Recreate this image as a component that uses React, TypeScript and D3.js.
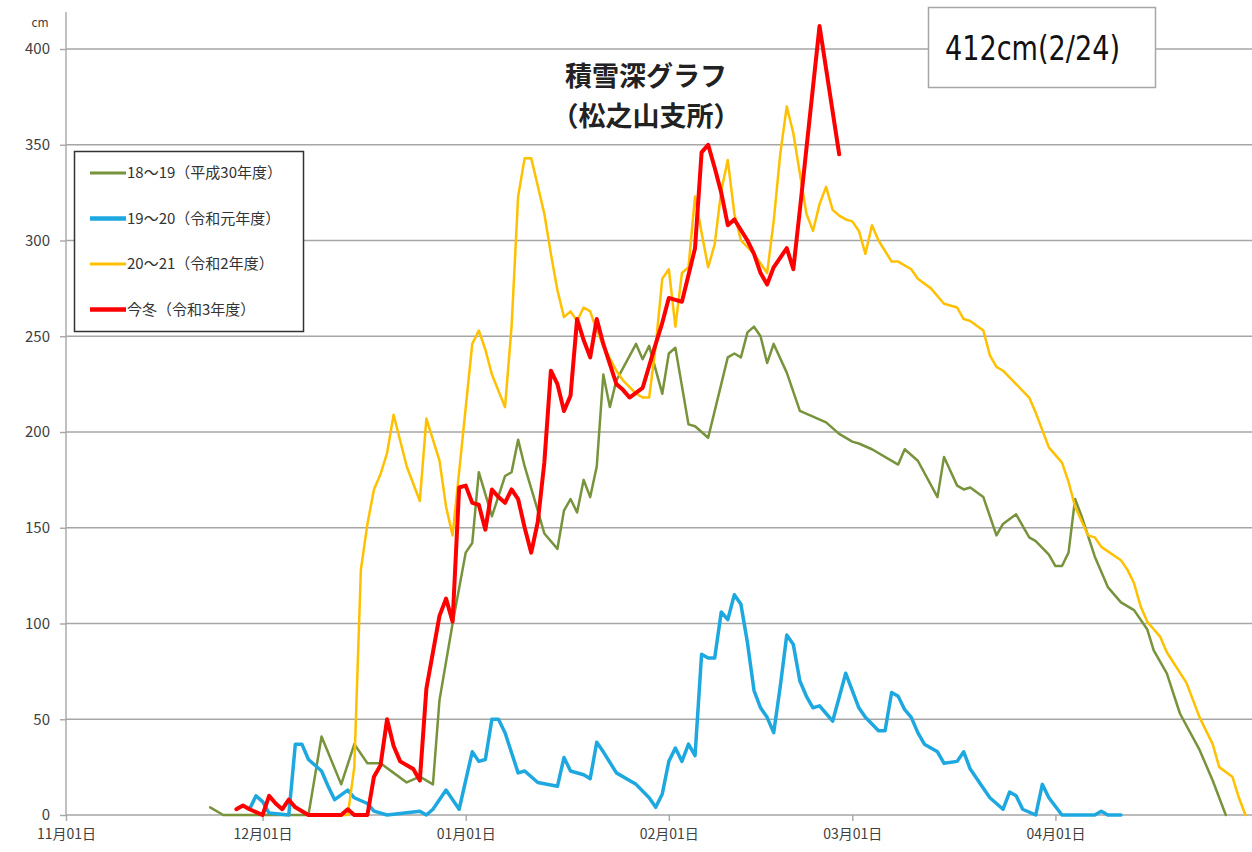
import { useEffect, useRef } from "react";
import * as d3 from "d3";

const WIDTH = 1252;
const HEIGHT = 852;
const FONT = "'Noto Sans CJK JP', 'Noto Sans', sans-serif";

// snow depth in cm as [month/day, cm]
const season1819: [string, number][] = [
  ["11/23", 4], ["11/25", 0], ["12/08", 0], ["12/10", 41], ["12/13", 16], ["12/15", 37],
  ["12/17", 27], ["12/19", 27], ["12/21", 22], ["12/23", 17], ["12/25", 20], ["12/27", 16],
  ["12/28", 60], ["12/30", 100], ["01/01", 137], ["01/02", 142], ["01/03", 179], ["01/05", 156],
  ["01/07", 177], ["01/08", 179], ["01/09", 196], ["01/10", 182], ["01/12", 159], ["01/13", 147],
  ["01/15", 139], ["01/16", 159], ["01/17", 165], ["01/18", 158], ["01/19", 175], ["01/20", 166],
  ["01/21", 182], ["01/22", 230], ["01/23", 213], ["01/24", 227], ["01/27", 246], ["01/28", 238],
  ["01/29", 245], ["01/31", 220], ["02/01", 241], ["02/02", 244], ["02/04", 204], ["02/05", 203],
  ["02/07", 197], ["02/09", 225], ["02/10", 239], ["02/11", 241], ["02/12", 239], ["02/13", 252],
  ["02/14", 255], ["02/15", 250], ["02/16", 236], ["02/17", 246], ["02/19", 231], ["02/21", 211],
  ["02/23", 208], ["02/25", 205], ["02/27", 199], ["03/01", 195], ["03/02", 194], ["03/04", 191],
  ["03/08", 183], ["03/09", 191], ["03/11", 185], ["03/14", 166], ["03/15", 187], ["03/17", 172],
  ["03/18", 170], ["03/19", 171], ["03/21", 166], ["03/23", 146], ["03/24", 152], ["03/26", 157],
  ["03/28", 145], ["03/29", 143], ["03/31", 136], ["04/01", 130], ["04/02", 130], ["04/03", 137],
  ["04/04", 165], ["04/05", 156], ["04/07", 135], ["04/09", 119], ["04/11", 111], ["04/13", 107],
  ["04/15", 97], ["04/16", 86], ["04/18", 74], ["04/20", 53], ["04/23", 34], ["04/25", 18],
  ["04/27", 0],
];

const season1920: [string, number][] = [
  ["11/29", 3], ["11/30", 10], ["12/01", 7], ["12/02", 1], ["12/05", 0], ["12/06", 37],
  ["12/07", 37], ["12/08", 29], ["12/10", 23], ["12/11", 15], ["12/12", 8], ["12/14", 13],
  ["12/15", 9], ["12/17", 6], ["12/18", 2], ["12/20", 0], ["12/25", 2], ["12/26", 0],
  ["12/27", 3], ["12/29", 13], ["12/31", 3], ["01/02", 33], ["01/03", 28], ["01/04", 29],
  ["01/05", 50], ["01/06", 50], ["01/07", 43], ["01/09", 22], ["01/10", 23], ["01/12", 17],
  ["01/15", 15], ["01/16", 30], ["01/17", 23], ["01/19", 21], ["01/20", 19], ["01/21", 38],
  ["01/22", 33], ["01/24", 22], ["01/26", 18], ["01/27", 16], ["01/29", 9], ["01/30", 4],
  ["01/31", 11], ["02/01", 28], ["02/02", 35], ["02/03", 28], ["02/04", 37], ["02/05", 31],
  ["02/06", 84], ["02/07", 82], ["02/08", 82], ["02/09", 106], ["02/10", 102], ["02/11", 115],
  ["02/12", 110], ["02/13", 90], ["02/14", 65], ["02/15", 56], ["02/16", 51], ["02/17", 43],
  ["02/18", 67], ["02/19", 94], ["02/20", 89], ["02/21", 70], ["02/22", 62], ["02/23", 56],
  ["02/24", 57], ["02/25", 53], ["02/26", 49], ["02/28", 74], ["03/01", 65], ["03/02", 56],
  ["03/03", 51], ["03/05", 44], ["03/06", 44], ["03/07", 64], ["03/08", 62], ["03/09", 55],
  ["03/10", 51], ["03/11", 43], ["03/12", 37], ["03/14", 33], ["03/15", 27], ["03/17", 28],
  ["03/18", 33], ["03/19", 24], ["03/21", 14], ["03/22", 9], ["03/24", 3], ["03/25", 12],
  ["03/26", 10], ["03/27", 3], ["03/29", 0], ["03/30", 16], ["03/31", 9], ["04/02", 0],
  ["04/07", 0], ["04/08", 2], ["04/09", 0], ["04/11", 0],
];

const season2021: [string, number][] = [
  ["12/13", 0], ["12/14", 0], ["12/15", 25], ["12/16", 128], ["12/17", 152], ["12/18", 170],
  ["12/19", 178], ["12/20", 189], ["12/21", 209], ["12/23", 182], ["12/25", 164], ["12/26", 207],
  ["12/28", 185], ["12/29", 161], ["12/30", 146], ["01/02", 246], ["01/03", 253], ["01/04", 243],
  ["01/05", 230], ["01/07", 213], ["01/08", 255], ["01/09", 323], ["01/10", 343], ["01/11", 343],
  ["01/13", 314], ["01/14", 293], ["01/15", 274], ["01/16", 260], ["01/17", 263], ["01/18", 258],
  ["01/19", 265], ["01/20", 263], ["01/21", 253], ["01/22", 245], ["01/24", 232], ["01/25", 227],
  ["01/27", 220], ["01/28", 218], ["01/29", 218], ["01/30", 245], ["01/31", 280], ["02/01", 285],
  ["02/02", 255], ["02/03", 283], ["02/04", 286], ["02/05", 323], ["02/06", 304], ["02/07", 286],
  ["02/08", 298], ["02/09", 326], ["02/10", 342], ["02/11", 314], ["02/12", 300], ["02/14", 293],
  ["02/15", 288], ["02/16", 283], ["02/17", 310], ["02/18", 345], ["02/19", 370], ["02/20", 356],
  ["02/21", 335], ["02/22", 314], ["02/23", 305], ["02/24", 319], ["02/25", 328], ["02/26", 316],
  ["02/27", 313], ["02/28", 311], ["03/01", 310], ["03/02", 305], ["03/03", 293], ["03/04", 308],
  ["03/05", 300], ["03/07", 289], ["03/08", 289], ["03/10", 285], ["03/11", 280], ["03/13", 275],
  ["03/15", 267], ["03/17", 265], ["03/18", 259], ["03/19", 258], ["03/21", 253], ["03/22", 240],
  ["03/23", 234], ["03/24", 232], ["03/26", 225], ["03/28", 218], ["03/29", 210], ["03/31", 192],
  ["04/02", 184], ["04/03", 174], ["04/04", 161], ["04/06", 146], ["04/07", 145], ["04/08", 140],
  ["04/11", 133], ["04/12", 128], ["04/13", 121], ["04/14", 109], ["04/15", 101], ["04/16", 97],
  ["04/17", 93], ["04/18", 85], ["04/21", 69], ["04/23", 51], ["04/25", 37], ["04/26", 25],
  ["04/28", 20], ["04/29", 9], ["04/30", 0],
];

const season2122: [string, number][] = [
  ["11/27", 3], ["11/28", 5], ["11/29", 3], ["12/01", 0], ["12/02", 10], ["12/03", 6],
  ["12/04", 3], ["12/05", 8], ["12/06", 4], ["12/08", 0], ["12/13", 0], ["12/14", 3],
  ["12/15", 0], ["12/17", 0], ["12/18", 20], ["12/19", 26], ["12/20", 50], ["12/21", 36],
  ["12/22", 28], ["12/24", 24], ["12/25", 18], ["12/26", 66], ["12/28", 104], ["12/29", 113],
  ["12/30", 101], ["12/31", 171], ["01/01", 172], ["01/02", 163], ["01/03", 162], ["01/04", 149],
  ["01/05", 170], ["01/06", 166], ["01/07", 163], ["01/08", 170], ["01/09", 165], ["01/10", 150],
  ["01/11", 137], ["01/12", 153], ["01/13", 184], ["01/14", 232], ["01/15", 225], ["01/16", 211],
  ["01/17", 219], ["01/18", 259], ["01/19", 248], ["01/20", 239], ["01/21", 259], ["01/22", 246],
  ["01/24", 225], ["01/25", 222], ["01/26", 218], ["01/28", 223], ["01/30", 246], ["01/31", 257],
  ["02/01", 270], ["02/02", 269], ["02/03", 268], ["02/04", 282], ["02/05", 296], ["02/06", 346],
  ["02/07", 350], ["02/08", 338], ["02/09", 325], ["02/10", 308], ["02/11", 311], ["02/13", 300],
  ["02/14", 293], ["02/15", 283], ["02/16", 277], ["02/17", 286], ["02/19", 296], ["02/20", 285],
  ["02/21", 316], ["02/22", 348], ["02/23", 380], ["02/24", 412], ["02/27", 345],
];

const seriesData = [season1819, season1920, season2021, season2122];
const seriesNames = ["18～19（平成30年度）", "19～20（令和元年度）", "20～21（令和2年度）", "今冬（令和3年度）"];
const seriesColors = ["#77933c", "#1ea8e0", "#ffc000", "#ff0000"];
const seriesWidths = [2.5, 3.5, 2.5, 4];
const legendWidths = [3, 4.5, 3, 4.5];

const monthTicks = ["11/01", "12/01", "01/01", "02/01", "03/01", "04/01"];
const yTicks = [0, 50, 100, 150, 200, 250, 300, 350, 400];

// season runs Nov -> Apr, put it on one calendar
const toDate = (md: string) => {
  const [m, d] = md.split("/").map(Number);
  return new Date(m >= 11 ? 2021 : 2022, m - 1, d);
};

const App = () => {
  const svgRef = useRef<SVGSVGElement | null>(null);

  useEffect(() => {
    const svg = d3.select(svgRef.current);
    svg.selectAll("*").remove();

    const x = d3
      .scaleTime()
      .domain([new Date(2021, 10, 1), new Date(2022, 4, 1)])
      .range([66, 1252]);
    const y = d3.scaleLinear().domain([0, 400]).range([815, 49]);

    svg.append("rect").attr("width", WIDTH).attr("height", HEIGHT).attr("fill", "#fff");

    // horizontal grid
    svg
      .append("g")
      .selectAll("line")
      .data(yTicks)
      .enter()
      .append("line")
      .attr("x1", 66)
      .attr("x2", WIDTH)
      .attr("y1", (d) => y(d))
      .attr("y2", (d) => y(d))
      .attr("stroke", "#a6a6a6")
      .attr("stroke-width", 1.4);

    // y axis
    const yAxis = svg
      .append("g")
      .attr("transform", "translate(66,0)")
      .call(d3.axisLeft(y).tickValues(yTicks).tickSize(6).tickPadding(10));
    yAxis.select(".domain").remove();
    yAxis.selectAll(".tick line").attr("stroke", "#a6a6a6").attr("stroke-width", 1.4);
    yAxis
      .selectAll(".tick text")
      .attr("font-family", FONT)
      .attr("font-size", 15)
      .attr("fill", "#404040");
    svg
      .append("line")
      .attr("x1", 66)
      .attr("x2", 66)
      .attr("y1", 12)
      .attr("y2", 815)
      .attr("stroke", "#a6a6a6")
      .attr("stroke-width", 1.4);
    svg
      .append("text")
      .attr("x", 40)
      .attr("y", 27)
      .attr("text-anchor", "middle")
      .attr("font-family", FONT)
      .attr("font-size", 12)
      .attr("fill", "#404040")
      .text("cm");

    // x axis
    const xAxis = svg
      .append("g")
      .attr("transform", `translate(0,${y(0)})`)
      .call(
        d3
          .axisBottom(x)
          .tickValues(monthTicks.map(toDate))
          .tickSize(6)
          .tickPadding(8)
          .tickFormat((d) => d3.timeFormat("%m月%d日")(d as Date))
      );
    xAxis.select(".domain").remove();
    xAxis.selectAll(".tick line").attr("stroke", "#a6a6a6").attr("stroke-width", 1.4);
    xAxis
      .selectAll(".tick text")
      .attr("font-family", FONT)
      .attr("font-size", 14)
      .attr("fill", "#404040");

    // series
    const line = d3
      .line<[string, number]>()
      .x((d) => x(toDate(d[0])))
      .y((d) => y(d[1]));

    svg
      .append("g")
      .selectAll("path")
      .data(seriesData)
      .enter()
      .append("path")
      .attr("d", (d) => line(d))
      .attr("fill", "none")
      .attr("stroke", (_, i) => seriesColors[i])
      .attr("stroke-width", (_, i) => seriesWidths[i])
      .attr("stroke-linejoin", "round")
      .attr("stroke-linecap", "round");

    // legend
    const legend = svg.append("g");
    legend
      .append("rect")
      .attr("x", 74.5)
      .attr("y", 151.5)
      .attr("width", 229)
      .attr("height", 180)
      .attr("fill", "#fff")
      .attr("stroke", "#333")
      .attr("stroke-width", 1.5);
    const items = legend
      .selectAll("g")
      .data(seriesNames)
      .enter()
      .append("g")
      .attr("transform", (_, i) => `translate(0,${173 + i * 45.5})`);
    items
      .append("line")
      .attr("x1", 90)
      .attr("x2", 126)
      .attr("stroke", (_, i) => seriesColors[i])
      .attr("stroke-width", (_, i) => legendWidths[i]);
    items
      .append("text")
      .attr("x", 127)
      .attr("dy", "0.35em")
      .attr("font-family", FONT)
      .attr("font-size", 15)
      .attr("fill", "#333")
      .text((d) => d);

    // title
    const title = svg
      .append("text")
      .attr("text-anchor", "middle")
      .attr("font-family", FONT)
      .attr("font-weight", "bold")
      .attr("font-size", 27)
      .attr("fill", "#222");
    title.append("tspan").attr("x", 646).attr("y", 86).text("積雪深グラフ");
    title.append("tspan").attr("x", 646).attr("y", 126).text("（松之山支所）");

    // max depth box
    svg
      .append("rect")
      .attr("x", 928.5)
      .attr("y", 7.5)
      .attr("width", 227)
      .attr("height", 80)
      .attr("fill", "#fff")
      .attr("stroke", "#a6a6a6")
      .attr("stroke-width", 1.5);
    svg
      .append("text")
      .attr("x", 945)
      .attr("y", 60)
      .attr("font-family", "'DejaVu Sans Condensed', 'Liberation Sans Narrow', 'Liberation Sans', sans-serif")
      .attr("font-size", 33)
      .attr("textLength", 175)
      .attr("lengthAdjust", "spacingAndGlyphs")
      .attr("fill", "#111")
      .text("412cm(2/24)");
  }, []);

  return (
    <div style={{ position: "absolute", left: 0, top: 0, background: "#fff" }}>
      <svg ref={svgRef} width={WIDTH} height={HEIGHT}></svg>
    </div>
  );
};

export default App;
